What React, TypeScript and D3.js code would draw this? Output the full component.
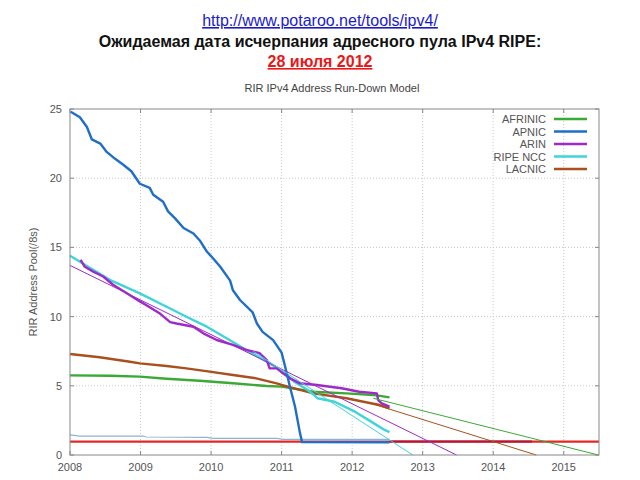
import React from "react";
import * as d3 from "d3";

const xTicks = [2008, 2009, 2010, 2011, 2012, 2013, 2014, 2015];
const yTicks = [0, 5, 10, 15, 20, 25];

const seriesNames = ["AFRINIC", "APNIC", "ARIN", "RIPE NCC", "LACNIC"];
const seriesColors = ["#3aa935", "#1f6ec8", "#9e2bc8", "#3fd4d8", "#a8501e"];

const afrinicYears = [2008.0, 2008.57, 2008.99, 2009.37, 2009.84, 2010.31, 2010.79, 2011.0, 2011.45, 2011.92, 2012.3, 2012.53];
const afrinicVals = [5.75, 5.73, 5.66, 5.51, 5.37, 5.18, 4.99, 4.94, 4.57, 4.45, 4.34, 4.16];

const apnicYears = [2008.01, 2008.14, 2008.24, 2008.31, 2008.43, 2008.52, 2008.64, 2008.76, 2008.87, 2008.99, 2009.13, 2009.18, 2009.32, 2009.39, 2009.49, 2009.61, 2009.75, 2009.84, 2009.94, 2010.03, 2010.13, 2010.27, 2010.31, 2010.41, 2010.59, 2010.65, 2010.73, 2010.88, 2011.0, 2011.05, 2011.12, 2011.19, 2011.26, 2011.29, 2012.53];
const apnicVals = [24.8, 24.4, 23.7, 22.8, 22.5, 21.9, 21.4, 20.95, 20.5, 19.6, 19.3, 18.8, 18.3, 17.6, 17.1, 16.4, 16.0, 15.5, 14.7, 14.2, 13.6, 12.6, 11.9, 11.2, 10.3, 9.5, 8.9, 8.3, 7.4, 6.4, 4.9, 3.5, 1.6, 0.93, 0.92];

const arinYears = [2008.15, 2008.21, 2008.33, 2008.47, 2008.61, 2008.8, 2008.99, 2009.09, 2009.28, 2009.42, 2009.51, 2009.75, 2009.89, 2010.08, 2010.31, 2010.5, 2010.69, 2010.79, 2010.83, 2010.93, 2011.02, 2011.12, 2011.26, 2011.5, 2011.85, 2012.1, 2012.35, 2012.37, 2012.42, 2012.53];
const arinVals = [14.1, 13.6, 13.25, 12.9, 12.3, 11.7, 11.1, 10.8, 10.2, 9.6, 9.5, 9.27, 8.79, 8.31, 7.95, 7.59, 7.35, 6.86, 6.26, 6.26, 5.9, 5.54, 5.18, 5.06, 4.82, 4.57, 4.45, 3.97, 3.73, 3.49];

const ripeYears = [2008.0, 2008.57, 2008.99, 2009.37, 2009.65, 2009.94, 2010.22, 2010.5, 2010.79, 2011.0, 2011.18, 2011.37, 2011.46, 2011.51, 2011.75, 2012.04, 2012.27, 2012.46, 2012.53];
const ripeVals = [14.4, 12.64, 11.68, 10.71, 9.99, 9.27, 8.43, 7.59, 6.74, 6.1, 5.3, 4.7, 4.34, 4.1, 3.85, 3.13, 2.41, 1.81, 1.65];

const lacnicYears = [2008.0, 2008.42, 2008.85, 2008.99, 2009.37, 2009.65, 2009.98, 2010.31, 2010.64, 2010.93, 2011.0, 2011.26, 2011.45, 2011.92, 2012.16, 2012.39, 2012.53];
const lacnicVals = [7.3, 7.06, 6.74, 6.62, 6.43, 6.26, 6.02, 5.78, 5.54, 5.18, 5.06, 4.7, 4.45, 4.1, 3.85, 3.61, 3.37];

// projections (thin lines): [year, value] start and end
const afrinicProj = [[2012.3, 4.1], [2015.49, 0]];
const arinProj = [[2008.0, 13.7], [2013.48, 0]];
const ripeProj = [[2010.6, 7.48], [2012.86, 0]];
const lacnicProj = [[2012.3, 3.68], [2014.61, 0]];

const ianaYears = [2008.0, 2008.14, 2009.04, 2009.08, 2009.94, 2010.03, 2010.93, 2011.02, 2012.53];
const ianaVals = [1.45, 1.37, 1.37, 1.3, 1.27, 1.2, 1.2, 1.13, 1.13];

const thresholdLine = [[2008.0, 0.97], [2015.5, 0.97]];
const thresholdDark = [[2012.53, 0.97], [2014.55, 0.97]];

const W = 640;
const H = 480;
const x = d3.scaleLinear().domain([2008, 2015.5]).range([70, 599]);
const y = d3.scaleLinear().domain([0, 25]).range([455, 109]);

const line = d3
  .line<[number, number]>()
  .x((d) => x(d[0]))
  .y((d) => y(d[1]));

function zip(a: number[], b: number[]): [number, number][] {
  return a.map((v, i) => [v, b[i]]);
}

const font = "'Liberation Sans', Arial, Helvetica, sans-serif";

export default function App() {
  const [x0, x1] = x.range();
  const [y0, y1] = y.range();
  const dataSeries: [number, number][][] = [
    zip(afrinicYears, afrinicVals),
    zip(apnicYears, apnicVals),
    zip(arinYears, arinVals),
    zip(ripeYears, ripeVals),
    zip(lacnicYears, lacnicVals),
  ];
  const projections: { d: [number, number][]; c: string }[] = [
    { d: arinProj as [number, number][], c: seriesColors[2] },
    { d: ripeProj as [number, number][], c: seriesColors[3] },
    { d: lacnicProj as [number, number][], c: seriesColors[4] },
    { d: afrinicProj as [number, number][], c: seriesColors[0] },
  ];
  const order = [0, 4, 3, 2, 1];
  return (
    <svg
      width={W}
      height={H}
      style={{ position: "absolute", left: 0, top: 0, background: "#fff" }}
      fontFamily={font}
    >
      <rect x={0} y={0} width={W} height={H} fill="#fff" />
      {/* header */}
      <text x={320} y={26} textAnchor="middle" fontSize={16} fill="#1a1acc" textDecoration="underline">
        http://www.potaroo.net/tools/ipv4/
      </text>
      <text x={320} y={47} textAnchor="middle" fontSize={16} fontWeight="bold" fill="#111">
        Ожидаемая дата исчерпания адресного пула IPv4 RIPE:
      </text>
      <text x={320} y={67} textAnchor="middle" fontSize={16} fontWeight="bold" fill="#e81818" textDecoration="underline">
        28 июля 2012
      </text>
      {/* chart title */}
      <text x={332} y={92} textAnchor="middle" fontSize={11} fill="#444">
        RIR IPv4 Address Run-Down Model
      </text>
      {/* grid */}
      {xTicks.slice(1).map((t) => (
        <line key={"gx" + t} x1={x(t)} x2={x(t)} y1={y0} y2={y1} stroke="#c8c8c8" strokeDasharray="1,2" />
      ))}
      {yTicks.slice(1, -1).map((t) => (
        <line key={"gy" + t} x1={x0} x2={x1} y1={y(t)} y2={y(t)} stroke="#c8c8c8" strokeDasharray="1,2" />
      ))}
      {/* ticks */}
      {xTicks.map((t) => (
        <g key={"tx" + t}>
          <line x1={x(t)} x2={x(t)} y1={y0} y2={y0 - 4} stroke="#888" />
          <line x1={x(t)} x2={x(t)} y1={y1} y2={y1 + 4} stroke="#888" />
          <text x={x(t)} y={471} textAnchor="middle" fontSize={11} fill="#555">
            {t}
          </text>
        </g>
      ))}
      {yTicks.map((t) => (
        <g key={"ty" + t}>
          <line x1={x0} x2={x0 + 4} y1={y(t)} y2={y(t)} stroke="#888" />
          <line x1={x1} x2={x1 - 4} y1={y(t)} y2={y(t)} stroke="#888" />
          <text x={62} y={y(t) + 4} textAnchor="end" fontSize={11} fill="#555">
            {t}
          </text>
        </g>
      ))}
      {/* y label */}
      <text transform="translate(37,282) rotate(-90)" textAnchor="middle" fontSize={11} fill="#555">
        RIR Address Pool(/8s)
      </text>
      {/* threshold & iana */}
      <path d={line(zip(ianaYears, ianaVals)) || ""} fill="none" stroke="#8fb2d2" strokeWidth={1.2} />
      <path d={line(thresholdLine as [number, number][]) || ""} fill="none" stroke="#e02828" strokeWidth={2.2} />
      <path d={line(thresholdDark as [number, number][]) || ""} fill="none" stroke="#b01838" strokeWidth={2} />
      {/* data */}
      {order.map((i) => (
        <path
          key={"s" + i}
          d={line(dataSeries[i]) || ""}
          fill="none"
          stroke={seriesColors[i]}
          strokeWidth={2.4}
          strokeLinejoin="round"
        />
      ))}
      {/* projections */}
      {projections.map((p, i) => (
        <path key={"p" + i} d={line(p.d) || ""} fill="none" stroke={p.c} strokeWidth={1} />
      ))}
      {/* frame */}
      <rect x={x0} y={y1} width={x1 - x0} height={y0 - y1} fill="none" stroke="#888" />
      {/* legend */}
      {seriesNames.map((n, i) => (
        <g key={"l" + n}>
          <text x={546} y={119 + i * 12.5 + 4} textAnchor="end" fontSize={11} fill="#555">
            {n}
          </text>
          <line x1={554} x2={587} y1={119 + i * 12.5} y2={119 + i * 12.5} stroke={seriesColors[i]} strokeWidth={2.4} />
        </g>
      ))}
    </svg>
  );
}
